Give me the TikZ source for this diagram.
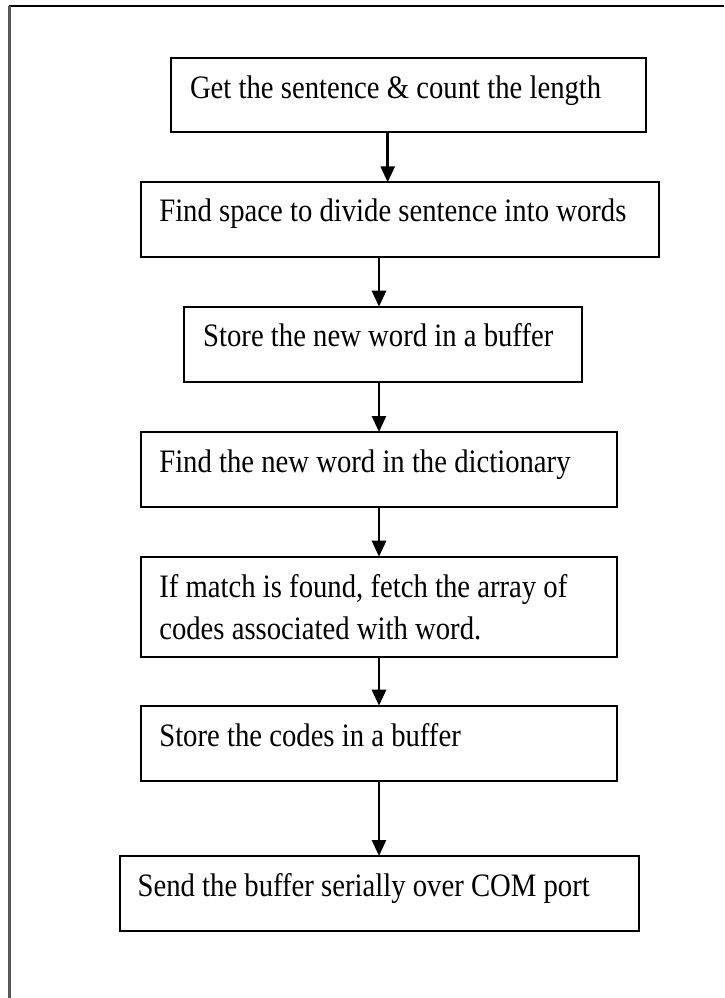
\documentclass[tikz,border=0pt]{standalone}
\usepackage{graphicx}
\usepackage{fontspec}
\setmainfont{Liberation Serif}
\usetikzlibrary{arrows.meta,calc}
\newcommand{\flowtxt}[1]{\scalebox{1}[1.14]{\fontsize{28.7}{37.4}\selectfont\begin{tabular}[t]{@{}l@{}}#1\end{tabular}}}
\begin{document}
\begin{tikzpicture}[x=1pt,y=-1pt,
  stepbox/.style={draw=black,line width=2.2pt,rectangle,inner sep=0pt,outer sep=0pt,anchor=north west},
  steptext/.style={inner sep=0pt,outer sep=0pt,anchor=base west,text=black},
  arr/.style={draw=black,line width=2.8pt,-{Triangle[length=16pt,width=14pt]}},
  frame/.style={line width=2.4pt}]
\useasboundingbox (0,0) rectangle (724,998);
% outer frame
\draw[frame,black] (8.5,6) -- (724,6);
\draw[frame,black!65] (9.5,6) -- (9.5,998);
% boxes
\node[stepbox,minimum width=475pt,minimum height=74pt] (b1) at (171,58) {};
\node[stepbox,minimum width=518pt,minimum height=75pt] (b2) at (141.3,182.3) {};
\node[stepbox,minimum width=398pt,minimum height=75.6pt] (b3) at (184.2,306.7) {};
\node[stepbox,minimum width=475.6pt,minimum height=74.7pt] (b4) at (141.3,432) {};
\node[stepbox,minimum width=475.6pt,minimum height=100pt] (b5) at (141.3,556.7) {};
\node[stepbox,minimum width=475.6pt,minimum height=75.6pt] (b6) at (141.3,705.7) {};
\node[stepbox,minimum width=519.4pt,minimum height=74.7pt] (b7) at (119.6,856) {};
% texts
\node[steptext] (t1) at ($(b1.north west)+(19,40)$) {\flowtxt{Get the sentence \& count the length}};
\node[steptext] (t2) at ($(b2.north west)+(18,39.5)$) {\flowtxt{Find space to divide sentence into words}};
\node[steptext] (t3) at ($(b3.north west)+(19,39.5)$) {\flowtxt{Store the new word in a buffer}};
\node[steptext] (t4) at ($(b4.north west)+(18,40)$) {\flowtxt{Find the new word in the dictionary}};
\node[steptext] (t5) at ($(b5.north west)+(18,40.5)$) {\flowtxt{If match is found, fetch the array of\\codes associated with word.}};
\node[steptext] (t6) at ($(b6.north west)+(18,41)$) {\flowtxt{Store the codes in a buffer}};
\node[steptext] (t7) at ($(b7.north west)+(18,40)$) {\flowtxt{Send the buffer serially over COM port}};
% arrow columns
\coordinate (c1) at (387.7,0);
\coordinate (c2) at (379,0);
\draw[arr] (c1 |- b1.south) -- (c1 |- b2.north);
\draw[arr] (c2 |- b2.south) -- (c2 |- b3.north);
\draw[arr] (c2 |- b3.south) -- (c2 |- b4.north);
\draw[arr] (c2 |- b4.south) -- (c2 |- b5.north);
\draw[arr] (c2 |- b5.south) -- (c2 |- b6.north);
\draw[arr] (c2 |- b6.south) -- (c2 |- b7.north);
\end{tikzpicture}
\end{document}
